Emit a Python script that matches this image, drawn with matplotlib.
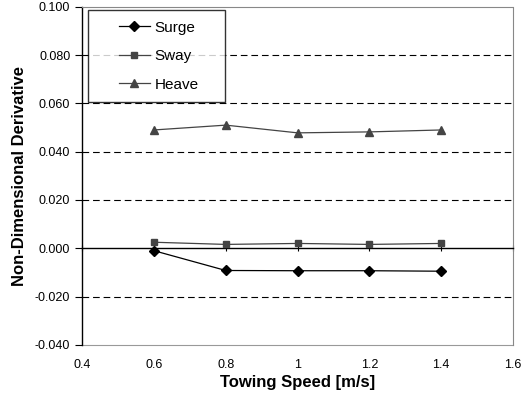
import matplotlib
matplotlib.use("Agg")
import matplotlib.pyplot as plt
from matplotlib.ticker import FixedLocator
from matplotlib.legend_handler import HandlerLine2D

speed = [0.6, 0.8, 1.0, 1.2, 1.4]
surge = [-0.001, -0.0092, -0.0093, -0.0093, -0.0095]
sway = [0.0025, 0.0016, 0.002, 0.0016, 0.002]
heave = [0.049, 0.051, 0.0478, 0.0482, 0.049]
xticks = [0.4, 0.6, 0.8, 1.0, 1.2, 1.4, 1.6]
xticklabels = ["0.4", "0.6", "0.8", "1", "1.2", "1.4", "1.6"]
yticks = [-0.04, -0.02, 0.0, 0.02, 0.04, 0.06, 0.08, 0.10]

plt.rcParams['font.family'] = ['Liberation Sans', 'DejaVu Sans']

fig = plt.figure(figsize=(5.23, 4.01), dpi=100)
ax = fig.add_axes([0.157, 0.140, 0.824, 0.843])
ax.set_xlim(0.4, 1.6)
ax.set_ylim(-0.04, 0.10)

for v in [-0.02, 0.02, 0.04, 0.06, 0.08]:
    ax.axhline(v, color='black', linestyle=(0, (6, 3.5)), linewidth=0.8, zorder=1)

ax.plot(speed, surge, color='black', marker='D', markersize=5, linewidth=0.9, label='Surge', zorder=3)
ax.plot(speed, sway, color='#444444', marker='s', markersize=5, linewidth=0.9, label='Sway', zorder=3)
ax.plot(speed, heave, color='#444444', marker='^', markersize=6, linewidth=0.9, label='Heave', zorder=3)

# spines
ax.spines['left'].set_color('black')
ax.spines['left'].set_linewidth(1.0)
for s in ['top', 'right']:
    ax.spines[s].set_color('#888888')
    ax.spines[s].set_linestyle((0, (1, 1)))
    ax.spines[s].set_linewidth(0.8)
ax.spines['bottom'].set_position(('data', 0))
ax.spines['bottom'].set_color('black')
ax.spines['bottom'].set_linewidth(1.0)
ax.xaxis.set_major_locator(FixedLocator(xticks))
ax.tick_params(axis='x', direction='inout', length=5, labelbottom=False, width=0.8)

sec = ax.secondary_xaxis(0.0)
sec.set_xticks(xticks)
sec.set_xticklabels(xticklabels)
sec.tick_params(axis='x', length=0, labelsize=9, pad=10)
sec.spines['bottom'].set_color('#999999')
sec.spines['bottom'].set_linewidth(0.8)
sec.set_xlabel('Towing Speed [m/s]', fontsize=12, fontweight='bold', labelpad=3)

ax.set_yticks(yticks)
ax.set_yticklabels([f"{v:.3f}" for v in yticks])
ax.tick_params(axis='y', direction='out', length=5, labelsize=9, width=0.8)
ax.set_ylabel('Non-Dimensional Derivative', fontsize=12, fontweight='bold', labelpad=6)

h = HandlerLine2D(xpad=1.3)
leg = ax.legend(loc='upper left', bbox_to_anchor=(0.014, 0.725, 0.318, 0.266), mode='expand',
                fontsize=11, frameon=True, fancybox=False, edgecolor='black',
                handlelength=3.33, handletextpad=0.3, labelspacing=0.95,
                borderpad=0.7, borderaxespad=0.0,
                handler_map={ln: h for ln in ax.get_lines()})
leg.get_frame().set_linewidth(1.0)

fig.savefig('out.png', dpi=100)
